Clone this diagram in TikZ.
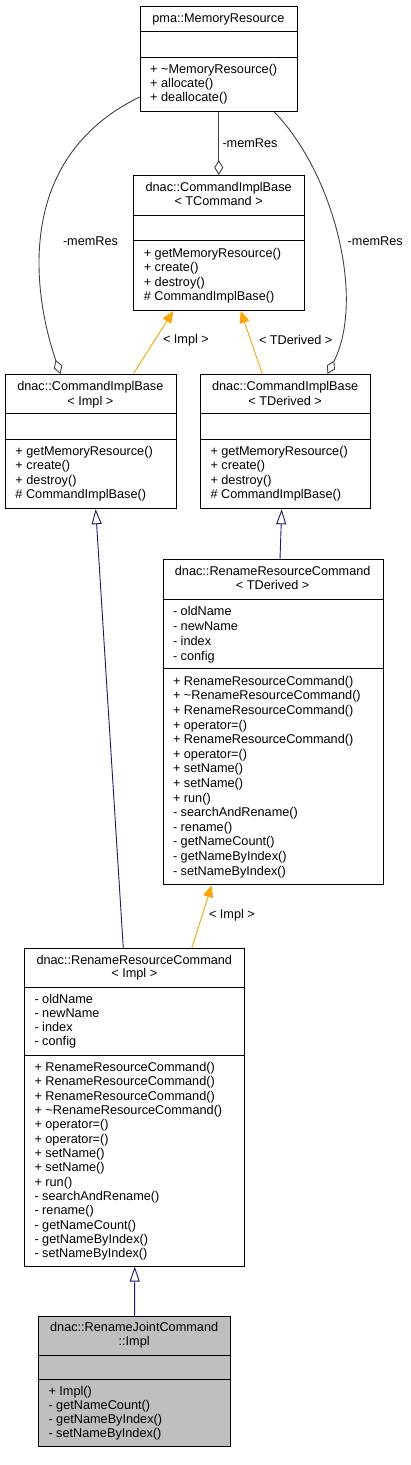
\documentclass[tikz,border=0pt]{standalone}
\usepackage{fontspec}
\setmainfont{Liberation Sans}
\usetikzlibrary{arrows.meta}
\definecolor{edgegray}{HTML}{404040}
\definecolor{navyedge}{HTML}{191970}
\definecolor{orangeedge}{HTML}{FFA500}
\definecolor{nodegray}{HTML}{BFBFBF}
\newcommand\umlLines[5]{\foreach \utext [count=\uidx from 0] in {#5} {\node[txt, anchor=base west] (#1-\uidx) at (#2, {#3+#4*\uidx}) {\utext};}}
\newcommand\umlSeps[3]{\draw[sepline] ([yshift=-#2pt]#1.north west) -- ([yshift=-#2pt]#1.north east);
  \draw[sepline] ([yshift=-#3pt]#1.north west) -- ([yshift=-#3pt]#1.north east);}
\begin{document}
\begin{tikzpicture}[x=1pt,y=-1pt,
  txt/.style={inner sep=0pt, outer sep=0pt, font=\fontsize{12.7}{14.6}\selectfont, text=black},
  umlbox/.style={draw=black, line width=0.9pt, fill=white, inner sep=0pt, anchor=north west},
  sepline/.style={draw=black, line width=0.9pt},
  agg/.style={draw=edgegray, line width=0.9pt, -{Diamond[open, length=15pt, width=9pt]}},
  inh/.style={draw=navyedge, line width=0.9pt, -{Triangle[open, length=15pt, width=10pt]}},
  tmpl/.style={draw=orangeedge, line width=0.9pt, -{Triangle[length=12pt, width=10pt]}, fill=orangeedge}]
\useasboundingbox (0,0) rectangle (411,1465);

% boxes
\node[umlbox, minimum width=157.3pt, minimum height=105.3pt] (mr) at (139.7,5.7) {};
\node[umlbox, minimum width=170.7pt, minimum height=135pt] (ct) at (133.3,175) {};
\node[umlbox, minimum width=170.7pt, minimum height=134.3pt] (ci) at (5,374) {};
\node[umlbox, minimum width=170.3pt, minimum height=134.3pt] (cd) at (200,374) {};
\node[umlbox, minimum width=220pt, minimum height=325pt] (rt) at (162.7,559.3) {};
\node[umlbox, minimum width=220pt, minimum height=317.4pt] (ri) at (24.3,948.3) {};
\node[umlbox, fill=nodegray, minimum width=191.7pt, minimum height=130.3pt] (ji) at (38.3,1315.7) {};

\umlSeps{mr}{26}{51.3}
\umlSeps{ct}{40}{65.3}
\umlSeps{ci}{39.3}{65.3}
\umlSeps{cd}{39.3}{65.3}
\umlSeps{rt}{40}{109}
\umlSeps{ri}{39.4}{106.7}
\umlSeps{ji}{39.3}{63.6}

% texts
\node[txt, anchor=base] (mr-t) at (218.35,22.2) {pma::MemoryResource};
\umlLines{mrm}{150.2}{73.3}{14}{+ \textasciitilde MemoryResource(), + allocate(), + deallocate()}

\node[txt, anchor=base] (ct-t1) at (218.65,191.3) {dnac::CommandImplBase};
\node[txt, anchor=base] (ct-t2) at (218.65,205.9) {< TCommand >};
\umlLines{ctm}{143.8}{257.3}{14.5}{+ getMemoryResource(), + create(), + destroy(), \# CommandImplBase()}

\node[txt, anchor=base] (ci-t1) at (90.35,390) {dnac::CommandImplBase};
\node[txt, anchor=base] (ci-t2) at (90.35,405) {< Impl >};
\umlLines{cim}{15.5}{455}{14.5}{+ getMemoryResource(), + create(), + destroy(), \# CommandImplBase()}

\node[txt, anchor=base] (cd-t1) at (285.15,390) {dnac::CommandImplBase};
\node[txt, anchor=base] (cd-t2) at (285.15,405) {< TDerived >};
\umlLines{cdm}{210.5}{455}{14.5}{+ getMemoryResource(), + create(), + destroy(), \# CommandImplBase()}

\node[txt, anchor=base] (rt-t1) at (272.7,575.3) {dnac::RenameResourceCommand};
\node[txt, anchor=base] (rt-t2) at (272.7,589.6) {< TDerived >};
\umlLines{rta}{173}{615.3}{14.9}{- oldName, - newName, - index, - config}
\umlLines{rtm}{173}{685.3}{14.6}{+ RenameResourceCommand(), + \textasciitilde RenameResourceCommand(), + RenameResourceCommand(), + operator=(), + RenameResourceCommand(), + operator=(), + setName(), + setName(), + run(), - searchAndRename(), - rename(), - getNameCount(), - getNameByIndex(), - setNameByIndex()}

\node[txt, anchor=base] (ri-t1) at (134.3,964.6) {dnac::RenameResourceCommand};
\node[txt, anchor=base] (ri-t2) at (134.3,977.9) {< Impl >};
\umlLines{ria}{34.5}{1003.6}{14.1}{- oldName, - newName, - index, - config}
\umlLines{rim}{34.5}{1071.3}{14.36}{+ RenameResourceCommand(), + RenameResourceCommand(), + RenameResourceCommand(), + \textasciitilde RenameResourceCommand(), + operator=(), + operator=(), + setName(), + setName(), + run(), - searchAndRename(), - rename(), - getNameCount(), - getNameByIndex(), - setNameByIndex()}

\node[txt, anchor=base] (ji-t1) at (134.15,1331.9) {dnac::RenameJointCommand};
\node[txt, anchor=base] (ji-t2) at (134.15,1345.6) {::Impl};
\umlLines{jim}{48.5}{1395.6}{14.1}{+ Impl(), - getNameCount(), - getNameByIndex(), - setNameByIndex()}

% connectors
\draw[agg] (mr.south) -- (mr.south |- ct.north);
\node[txt, anchor=west] (lbl1) at (222.5,142.7) {-memRes};
\draw[agg] ([yshift=-91.3pt]mr.north west) .. controls (10,160) and (35,300) .. ([xshift=55.5pt]ci.north west);
\node[txt, anchor=west] (lbl2) at (63,241.3) {-memRes};
\draw[agg] ([xshift=134.6pt]mr.south west) .. controls (335,175) and (365,300) .. ([xshift=127.5pt]cd.north west);
\node[txt, anchor=west] (lbl3) at (347.7,241.3) {-memRes};

\draw[tmpl] ([xshift=128.3pt]ci.north west) -- ([xshift=40pt]ct.south west);
\node[txt, anchor=west] (lbl4) at (163,340) {< Impl >};
\draw[tmpl] ([xshift=62.3pt]cd.north west) -- ([xshift=107.4pt]ct.south west);
\node[txt, anchor=west] (lbl5) at (259,340) {< TDerived >};

\draw[inh] ([xshift=99pt]ri.north west) -- ([xshift=90.7pt]ci.south west);
\draw[inh] ([xshift=117.3pt]rt.north west) -- ([xshift=81.7pt]cd.south west);
\draw[tmpl] ([xshift=167.4pt]ri.north west) -- ([xshift=49pt]rt.south west);
\node[txt, anchor=west] (lbl6) at (209,915.7) {< Impl >};
\draw[inh] (ji.north) -- (ri.south);
\end{tikzpicture}
\end{document}
